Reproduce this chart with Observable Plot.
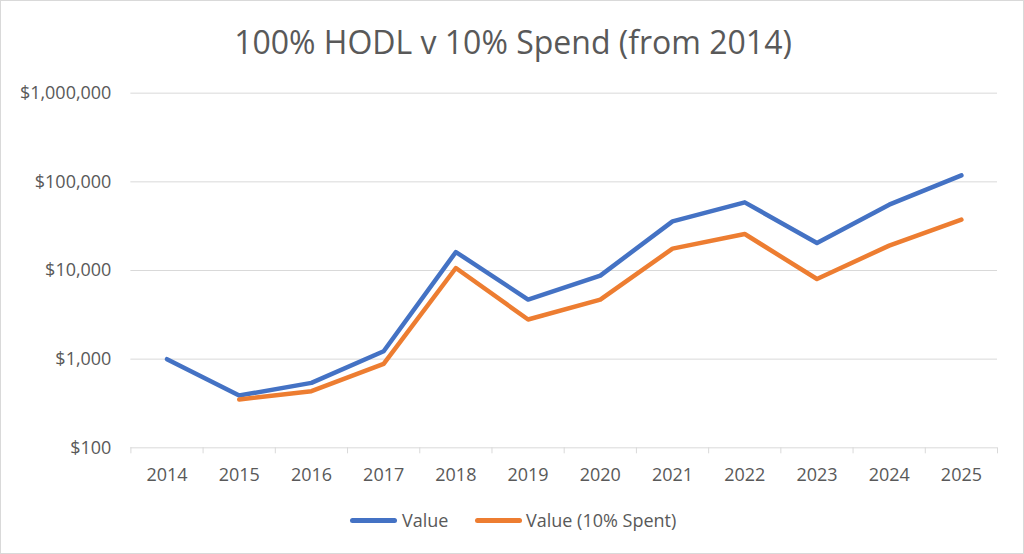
<!DOCTYPE html>
<html>
<head>
<meta charset="utf-8">
<script src="https://cdn.jsdelivr.net/npm/d3@7"></script>
<script src="https://cdn.jsdelivr.net/npm/@observablehq/plot@0.6"></script>
<style>
  body { margin: 0; background: #fff; }
  #frame { position: relative; width: 1024px; height: 554px; box-sizing: border-box; border: 1px solid #d9d9d9; overflow: hidden; font-family: "Open Sans", sans-serif; color: #595959; }
  #title { position: absolute; left: 0; top: 25px; width: 1024px; text-align: center; font-size: 32px; line-height: 32px; }
  #chart { position: absolute; left: -1px; top: 59px; }
  .sw { position: absolute; height: 5px; border-radius: 2.5px; width: 47px; top: 517px; }
  .lt { position: absolute; top: 510px; font-size: 18px; line-height: 18px; white-space: nowrap; }
</style>
</head>
<body>
<div id="frame">
  <div id="title">100% HODL v 10% Spend (from 2014)</div>
  <div id="chart"></div>
  <div id="legend"></div>
</div>
<script>
const years = [2014, 2015, 2016, 2017, 2018, 2019, 2020, 2021, 2022, 2023, 2024, 2025];
const hodl  = [1000, 389, 540, 1229, 16160, 4700, 8760, 35850, 58700, 20400, 55270, 118200];
const spent = [null, 351, 435, 884, 10670, 2800, 4700, 17650, 25780, 8020, 19080, 37460];
const yTicks = [100, 1000, 10000, 100000, 1000000];
const seriesNames = ["Value", "Value (10% Spent)"];
const seriesColors = ["#4472C4", "#ED7D31"];

const boundaries = years.map(y => y - 0.5).concat([years[years.length - 1] + 0.5]);
const hodlData = years.map((y, i) => ({year: y, value: hodl[i]}));
const spentData = years.map((y, i) => ({year: y, value: spent[i]})).filter(d => d.value != null);
const fmt = d => "$" + d3.format(",")(d);

const chart = Plot.plot({
  width: 1024,
  height: 440,
  marginLeft: 130.5,
  marginRight: 26,
  marginTop: 32.7,
  marginBottom: 52.3,
  style: {fontFamily: "Open Sans", fontSize: "18px", color: "#595959", background: "transparent", overflow: "visible"},
  x: {type: "linear", domain: [2013.5, 2025.5], axis: null},
  y: {type: "log", domain: [100, 1000000], axis: null},
  marks: [
    Plot.ruleY(yTicks, {stroke: "#d9d9d9", strokeWidth: 1}),
    Plot.axisY(yTicks, {tickSize: 0, tickPadding: 19.5, tickFormat: fmt, fill: "#595959", label: null}),
    Plot.axisX(boundaries, {tickSize: 6, tickFormat: () => "", stroke: "#d9d9d9", label: null}),
    Plot.axisX(years, {tickSize: 0, tickPadding: 20.5, tickFormat: d => String(d), fill: "#595959", label: null}),
    Plot.line(hodlData, {x: "year", y: "value", stroke: seriesColors[0], strokeWidth: 4.5, strokeLinejoin: "round", strokeLinecap: "round"}),
    Plot.line(spentData, {x: "year", y: "value", stroke: seriesColors[1], strokeWidth: 4.5, strokeLinejoin: "round", strokeLinecap: "round"})
  ]
});
document.getElementById("chart").appendChild(chart);

const legend = document.getElementById("legend");
const swLeft = [349, 474];
const txLeft = [401, 525];
seriesNames.forEach((name, i) => {
  const sw = document.createElement("div");
  sw.className = "sw";
  sw.style.left = swLeft[i] + "px";
  sw.style.background = seriesColors[i];
  legend.appendChild(sw);
  const t = document.createElement("div");
  t.className = "lt";
  t.style.left = txLeft[i] + "px";
  t.textContent = name;
  legend.appendChild(t);
});
</script>
</body>
</html>
